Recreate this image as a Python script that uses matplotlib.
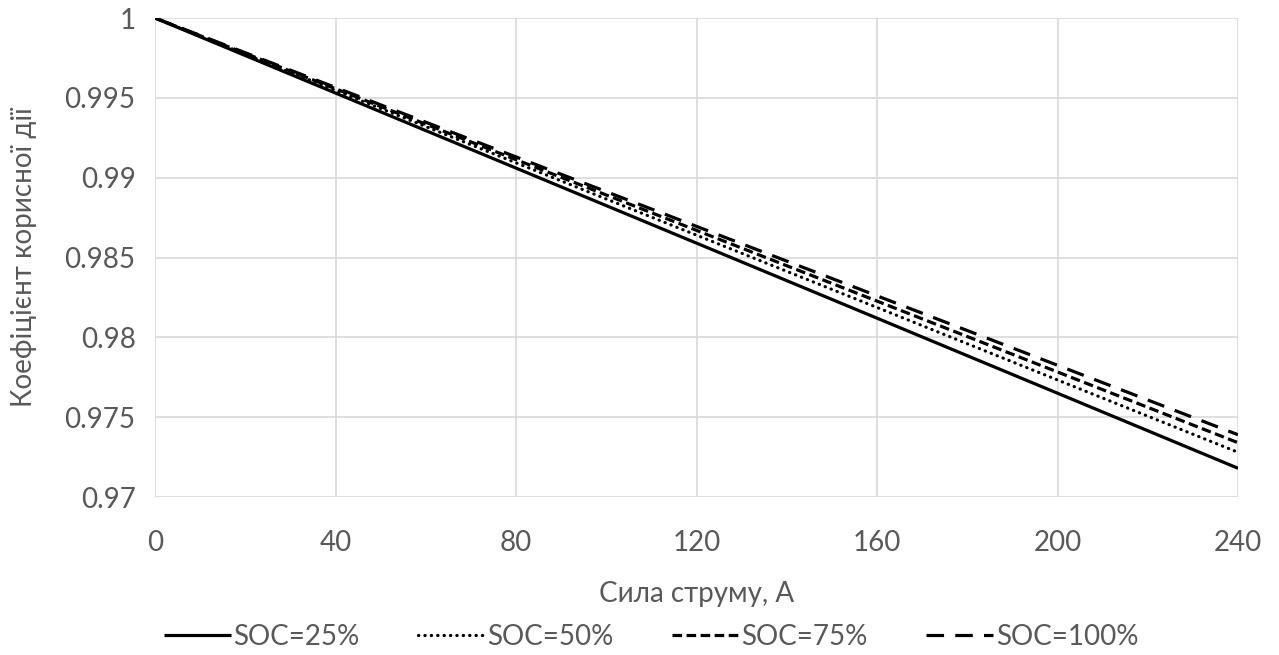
import matplotlib
matplotlib.use("Agg")
import matplotlib.pyplot as plt

# струм, А
current = [0, 40, 80, 120, 160, 200, 240]

# ККД при різному рівні заряду
eff_soc25 = [1.0, 0.9953, 0.9906, 0.9859, 0.9812, 0.9765, 0.9718]
eff_soc50 = [1.0, 0.99547, 0.99093, 0.9864, 0.98187, 0.97733, 0.9728]
eff_soc75 = [1.0, 0.99557, 0.99113, 0.9867, 0.98227, 0.97783, 0.9734]
eff_soc100 = [1.0, 0.99565, 0.9913, 0.98695, 0.9826, 0.97825, 0.9739]

labels = ["SOC=25%", "SOC=50%", "SOC=75%", "SOC=100%"]
xticks = [0, 40, 80, 120, 160, 200, 240]
yticks = [0.97, 0.975, 0.98, 0.985, 0.99, 0.995, 1.0]

plt.rcParams['font.family'] = ['Lato', 'DejaVu Sans']
grey = '#595959'
fs = 20

fig = plt.figure(figsize=(12.79, 6.55), dpi=100)
ax = fig.add_axes([0.1212, 0.2412, 0.8468, 0.7313])

lw = 2.3
ax.plot(current, eff_soc25, color='k', lw=lw, solid_capstyle='butt', label=labels[0])
ax.plot(current, eff_soc50, color='k', lw=lw, linestyle=(0, (0.1, 1.9)),
        dash_capstyle='round', label=labels[1])
ax.plot(current, eff_soc75, color='k', lw=lw, linestyle=(0, (3.0, 1.4)),
        dash_capstyle='butt', label=labels[2])
ax.plot(current, eff_soc100, color='k', lw=lw, linestyle=(0, (5.5, 3.5)),
        dash_capstyle='butt', label=labels[3])

ax.set_xlim(0, 240)
ax.set_ylim(0.97, 1.0)
ax.set_xticks(xticks)
ax.set_yticks(yticks)
ax.set_yticklabels([f"{v:g}" for v in yticks])
ax.tick_params(length=0, labelsize=fs, colors=grey)
ax.tick_params(axis='x', pad=24)
ax.tick_params(axis='y', pad=14)
ax.grid(True, color='#d9d9d9', lw=1.2)
ax.set_axisbelow(True)
for s in ax.spines.values():
    s.set_visible(False)

ax.set_xlabel("Сила струму, А", fontsize=fs, color=grey, labelpad=18)
ax.set_ylabel("Коефіцієнт корисної дії", fontsize=fs, color=grey, labelpad=20)

fig.legend(loc='lower center', bbox_to_anchor=(0.509, -0.03), ncol=4, frameon=False,
           fontsize=fs, labelcolor=grey, handlelength=2.4, handletextpad=0.1,
           columnspacing=2.1)

fig.savefig('out.png', dpi=100)
